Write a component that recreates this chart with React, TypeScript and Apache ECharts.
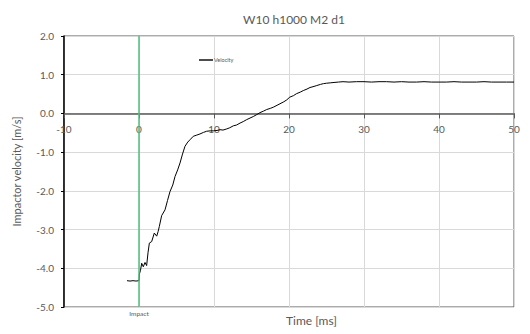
import React, { useEffect, useRef } from "react";
import * as echarts from "echarts";

const titleText = "W10 h1000 M2 d1";
const seriesName = "Velocity";
const xAxisName = "Time [ms]";
const yAxisName = "Impactor velocity [m/s]";
const impactLabel = "Impact";
const impactTime = 0;
const xMin = -10;
const xMax = 50;
const yMin = -5;
const yMax = 2;

const timeMs = [
  -1.6, -1.2, -0.8, -0.4, 0, 0.05, 0.2, 0.36, 0.57, 0.8, 1.02, 1.2, 1.38, 1.69, 2.04, 2.36, 2.55, 2.71,
  3.02, 3.47, 3.8, 4.13, 4.5, 4.8, 5.15, 5.47, 5.8, 6.13, 6.5, 6.8, 7.24, 7.7, 8.13, 8.6, 9.02, 9.5,
  9.91, 10.4, 10.8, 11.2, 11.7, 12.1, 12.58, 13.0, 13.47, 13.9, 14.36, 14.8, 15.24, 15.7, 16.13, 16.6,
  17.02, 17.5, 17.9, 18.4, 18.8, 19.3, 19.7, 20.1, 20.6, 21.0, 21.5, 21.9, 22.4, 22.8, 23.2, 23.7,
  24.2, 24.6, 25.0, 25.5, 26.0, 26.6, 27.2, 28, 29, 30, 31, 32, 33, 34, 35, 36, 37, 38, 39, 40, 41,
  42, 43, 44, 45, 46, 47, 48, 49, 50,
];
const velocity = [
  -4.32, -4.33, -4.32, -4.33, -4.32, -4.15, -4.05, -3.87, -3.96, -3.85, -3.93, -3.6, -3.35, -3.31,
  -3.09, -3.17, -3.05, -2.92, -2.64, -2.49, -2.25, -2.02, -1.85, -1.63, -1.46, -1.28, -1.05, -0.85,
  -0.74, -0.68, -0.59, -0.56, -0.53, -0.49, -0.46, -0.45, -0.45, -0.44, -0.42, -0.43, -0.4, -0.37,
  -0.32, -0.3, -0.25, -0.21, -0.16, -0.12, -0.08, -0.03, 0.02, 0.06, 0.1, 0.13, 0.16, 0.21, 0.25, 0.3,
  0.35, 0.42, 0.46, 0.51, 0.55, 0.59, 0.63, 0.67, 0.69, 0.72, 0.75, 0.77, 0.78, 0.79, 0.8, 0.81, 0.82,
  0.81, 0.82, 0.82, 0.81, 0.82, 0.82, 0.81, 0.82, 0.81, 0.81, 0.82, 0.81, 0.81, 0.81, 0.82, 0.81, 0.81,
  0.81, 0.82, 0.81, 0.81, 0.81, 0.81,
];

const FONT = "Lato, 'Liberation Sans', sans-serif";
const TEXT = "#595959";
const GRID = { left: 64, right: 16, top: 36, bottom: 27 };
const H = 334;

export default function App() {
  const ref = useRef<HTMLDivElement>(null);
  useEffect(() => {
    if (!ref.current) return;
    const chart = echarts.init(ref.current, undefined, { renderer: "svg" });
    const data = timeMs.map((t, i) => [t, velocity[i]]);
    const plotH = H - GRID.top - GRID.bottom;
    const zeroOffset = -(plotH * (0 - yMin)) / (yMax - yMin);
    chart.setOption({
      animation: false,
      backgroundColor: "#ffffff",
      textStyle: { fontFamily: FONT },
      title: {
        text: titleText,
        left: 289,
        top: 8,
        textAlign: "center",
        textStyle: { fontFamily: FONT, fontSize: 12, fontWeight: "normal", color: TEXT },
      },
      legend: {
        left: 194,
        top: 52,
        itemWidth: 14,
        itemHeight: 5,
        itemGap: 2,
        icon: "path://M0,0 L14,0 L14,1.4 L0,1.4 Z",
        textStyle: { fontFamily: FONT, fontSize: 5.5, color: TEXT, padding: [0, 0, 0, -4] },
        data: [{ name: seriesName, itemStyle: { color: "#000000" } }],
      },
      grid: {
        ...GRID,
        show: true,
        borderColor: "#595959",
        borderWidth: 1,
      },
      xAxis: {
        type: "value",
        min: xMin,
        max: xMax,
        interval: 10,
        position: "bottom",
        offset: zeroOffset,
        axisLine: { onZero: false, lineStyle: { color: "#595959", width: 1.5 } },
        axisTick: { show: true, inside: false, length: 5, lineStyle: { color: "#595959" } },
        axisLabel: { fontFamily: FONT, fontSize: 10, color: TEXT, margin: 11, showMinLabel: true, showMaxLabel: true },
        splitLine: { show: true, lineStyle: { color: "#d9d9d9", width: 1 } },
      },
      yAxis: {
        type: "value",
        min: yMin,
        max: yMax,
        interval: 1,
        name: yAxisName,
        nameLocation: "middle",
        nameGap: 42,
        nameTextStyle: { fontFamily: FONT, fontSize: 11, color: TEXT },
        axisLine: { show: true, onZero: false, lineStyle: { color: "#000000", width: 1.5 } },
        axisTick: { show: true, inside: false, length: 3, lineStyle: { color: "#000000" } },
        axisLabel: {
          fontFamily: FONT,
          fontSize: 10,
          color: TEXT,
          margin: 10,
          formatter: (v: number) => v.toFixed(1),
        },
        splitLine: { show: true, lineStyle: { color: "#d9d9d9", width: 1 } },
      },
      graphic: [
        {
          type: "text",
          left: 286,
          top: 314,
          style: {
            text: xAxisName,
            fontFamily: FONT,
            fontSize: 12,
            fill: TEXT,
            textAlign: "center",
          },
        },
      ],
      series: [
        {
          name: seriesName,
          type: "line",
          data,
          showSymbol: false,
          symbol: "none",
          lineStyle: { color: "#000000", width: 1 },
          itemStyle: { color: "#000000" },
          z: 3,
          markLine: {
            silent: true,
            symbol: ["none", "none"],
            lineStyle: { color: "#4fbf7f", width: 1.5, type: "solid" },
            label: {
              show: true,
              position: "start",
              formatter: impactLabel,
              fontFamily: FONT,
              fontSize: 6.5,
              color: TEXT,
              distance: 3,
            },
            data: [{ xAxis: impactTime }],
          },
        },
      ],
    });
    return () => chart.dispose();
  }, []);
  return (
    <div
      ref={ref}
      style={{ position: "absolute", left: 0, top: 0, width: 530, height: H }}
    />
  );
}
